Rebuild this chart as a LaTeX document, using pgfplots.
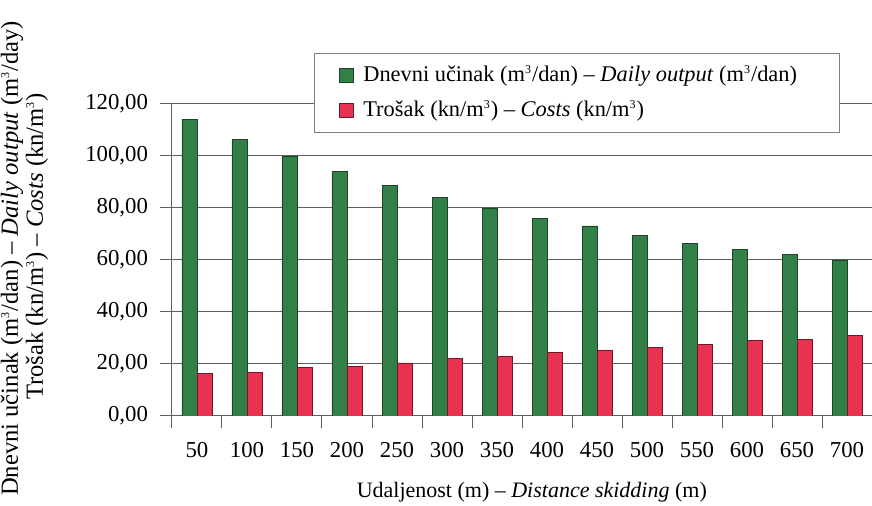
\documentclass[border=0pt]{standalone}
\usepackage{pgfplots}
\pgfplotsset{compat=1.18}
\usepackage{fontspec}
\setmainfont{Liberation Serif}
\definecolor{gbar}{RGB}{50,128,72}
\definecolor{gedge}{RGB}{25,70,40}
\definecolor{rbar}{RGB}{232,50,82}
\definecolor{redge}{RGB}{110,25,40}
\definecolor{gridc}{RGB}{95,95,95}
\newcommand{\cub}{\textsuperscript{\fontsize{6}{6}\selectfont 3}}
\begin{document}
\fontsize{11.4}{13}\selectfont
\begin{tikzpicture}
\useasboundingbox (-86pt,-45pt) rectangle (350pt,208pt);
\begin{axis}[
  at={(0pt,0pt)}, anchor=south west,
  width=350pt, height=156pt, scale only axis,
  ybar=0pt, bar width=7.5pt,
  xmin=0.5, xmax=14.5, ymin=0, ymax=120,
  axis x line*=bottom, axis y line*=left,
  axis line style={gridc, line width=0.5pt},
  xtick={0.5,1.5,...,14.5},
  xticklabels={50,100,150,200,250,300,350,400,450,500,550,600,650,700,{}},
  x tick label style={xshift=12.5pt, yshift=-3pt},
  ytick={0,20,...,120},
  yticklabels={{0,00},{20,00},{40,00},{60,00},{80,00},{100,00},{120,00}},
  y tick label style={xshift=-2pt},
  tick style={gridc, line width=0.5pt},
  tick align=outside, major tick length=6pt,
  ymajorgrids, grid style={gridc, line width=0.5pt},
  /pgf/number format/assume math mode=true,
  ticklabel style={font=\fontsize{11.4}{13}\selectfont},
  xlabel={Udaljenost (m) -- \textit{Distance skidding} (m)},
  xlabel style={at={(axis description cs:0.514,0)}, anchor=center, yshift=-38pt, font=\fontsize{11}{13}\selectfont},
  ylabel={Dnevni učinak (m\cub/dan) -- \textit{Daily output} (m\cub/day)\\\hspace*{12pt}Trošak (kn/m\cub) -- \textit{Costs} (kn/m\cub)},
  ylabel style={align=center, at={(axis description cs:-0.2107,0.505)}, anchor=center, font=\fontsize{12.3}{12.5}\selectfont},
  legend style={at={(axis description cs:0.2029,1.1635)}, anchor=north west,
    draw=gray, line width=0.5pt, fill=white, inner xsep=12pt, inner ysep=4pt,
    row sep=4pt, font=\fontsize{11.2}{13}\selectfont},
  legend cell align=left,
  legend image code/.code={\draw[#1] (0pt,-3.5pt) rectangle (7pt,3.5pt); \path (10pt,0pt);},
]
\addplot[fill=gbar, draw=gedge, line width=0.4pt] coordinates {
(1,114.2) (2,106.5) (3,100.0) (4,94.1) (5,88.6) (6,84.2) (7,79.9)
(8,76.1) (9,73.1) (10,69.3) (11,66.4) (12,64.2) (13,62.0) (14,59.7)};
\addplot[fill=rbar, draw=redge, line width=0.4pt] coordinates {
(1,16.2) (2,16.9) (3,18.5) (4,19.1) (5,20.4) (6,22.0) (7,22.9)
(8,24.3) (9,25.1) (10,26.5) (11,27.6) (12,29.0) (13,29.5) (14,30.9)};
\legend{Dnevni učinak (m\cub/dan) -- \textit{Daily output} (m\cub/dan)\rule{7pt}{0pt},
Trošak (kn/m\cub) -- \textit{Costs} (kn/m\cub)}
\end{axis}
\end{tikzpicture}
\end{document}
